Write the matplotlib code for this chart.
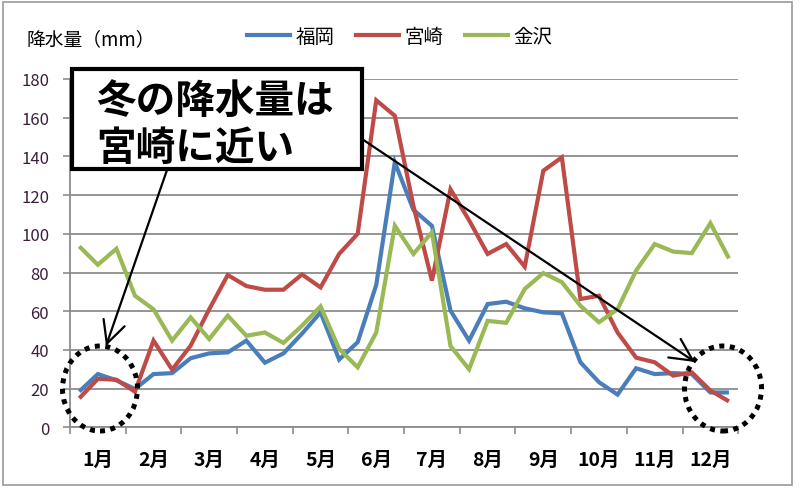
import matplotlib
matplotlib.use("Agg")
import matplotlib.pyplot as plt
from matplotlib.patches import Rectangle, Ellipse, FancyArrowPatch
from matplotlib.lines import Line2D
import numpy as np

plt.rcParams["font.family"] = ["Noto Sans CJK JP", "DejaVu Sans"]

# ---------------- Data (3 values per month, 旬) ----------------
months = ["1月", "2月", "3月", "4月", "5月", "6月",
          "7月", "8月", "9月", "10月", "11月", "12月"]

fukuoka = [18.5, 27.5, 24.3, 19.8, 27.5, 28.0, 35.7, 38.2, 38.7, 44.8, 33.4, 38.2,
           48.4, 59.4, 35.0, 44.0, 73.6, 137.0, 112.4, 104.1, 60.3, 44.8, 63.7, 64.9,
           61.5, 59.4, 58.9, 33.6, 23.3, 16.9, 30.5, 27.5, 28.0, 27.5, 18.0, 18.0]

miyazaki = [15.0, 25.0, 24.6, 18.4, 44.8, 29.8, 42.2, 61.0, 78.7, 73.0, 71.1, 71.1,
            79.0, 72.3, 89.6, 100.0, 169.0, 161.0, 114.5, 75.8, 123.0, 107.0, 89.6, 94.7,
            83.0, 132.6, 139.5, 66.3, 68.0, 49.0, 36.0, 33.6, 26.7, 28.4, 19.0, 13.4]

kanazawa = [93.5, 84.0, 92.3, 68.0, 61.0, 44.8, 56.8, 45.6, 57.7, 47.3, 49.0, 43.6,
            52.5, 62.5, 40.5, 31.0, 49.0, 104.2, 89.6, 100.8, 42.0, 30.0, 55.0, 54.0,
            71.5, 79.7, 75.0, 62.8, 54.3, 61.0, 81.0, 94.7, 90.8, 90.0, 105.5, 87.3]

series_names = ["福岡", "宮崎", "金沢"]
y_ticks = list(range(0, 181, 20))

# ---------------- Style ----------------
COLORS = ["#4a7ebb", "#be4b48", "#98b954"]
W, H = 800, 489

def fx(px):
    return px / W

def fy(py):
    return 1 - py / H

fig = plt.figure(figsize=(W / 100, H / 100), dpi=100)
fig.patch.set_facecolor("white")

ax = fig.add_axes([fx(70), fy(428.3), (738.2 - 70) / W, (428.3 - 80) / H])

x = np.arange(len(fukuoka))
for vals, color, name in zip([fukuoka, miyazaki, kanazawa], COLORS, series_names):
    ax.plot(x, vals, color=color, lw=3.0, label=name, solid_joinstyle="miter",
            solid_capstyle="butt", zorder=3)

ax.set_xlim(-0.5, len(fukuoka) - 0.5)
ax.set_ylim(0, 180)

# y axis
ax.set_yticks(y_ticks)
ax.tick_params(axis="y", which="major", length=5, width=1.2, color="#8c8c8c",
               pad=10, labelsize=12, labelcolor="#3c1f3c")
ax.grid(axis="y", color="#8c8c8c", lw=1.3, zorder=0)

# x axis: boundaries as major ticks, month names at centers
ax.set_xticks(np.arange(-0.5, len(fukuoka), 3))
ax.set_xticklabels([])
ax.set_xticks(np.arange(1, len(fukuoka), 3), minor=True)
ax.set_xticklabels(months, minor=True, fontsize=14, fontweight="bold")
ax.tick_params(axis="x", which="major", length=5, width=1.2, color="#8c8c8c", direction="out")
ax.tick_params(axis="x", which="minor", length=0, pad=16)

for s in ["top", "right"]:
    ax.spines[s].set_visible(False)
for s in ["left", "bottom"]:
    ax.spines[s].set_color("#8c8c8c")
    ax.spines[s].set_linewidth(1.3)

# y title
fig.text(fx(27), fy(40), "降水量（mm）", fontsize=13.5, ha="left", va="center")

# legend
handles = [Line2D([], [], color=c, lw=3.0) for c in COLORS]
fig.legend(handles, series_names, loc="center", bbox_to_anchor=(fx(400), fy(37)),
           ncol=3, frameon=False, fontsize=14, handlelength=2.2, handletextpad=0.3,
           columnspacing=1.1)

# callout box
box = Rectangle((fx(72), fy(170)), (362 - 72) / W, (170 - 70) / H, transform=fig.transFigure,
                facecolor="white", edgecolor="black", lw=3.0, zorder=5)
fig.patches.append(box)
fig.text(fx(96), fy(101), "冬の降水量は", fontsize=28.5, fontweight="bold",
         ha="left", va="center", zorder=6)
fig.text(fx(96), fy(148), "宮崎に近い", fontsize=28.5, fontweight="bold",
         ha="left", va="center", zorder=6)

# arrows
for (x0, y0), (x1, y1) in [((167, 171), (106, 347)), ((362, 140), (695, 363))]:
    arr = FancyArrowPatch((fx(x0), fy(y0)), (fx(x1), fy(y1)), transform=fig.transFigure,
                          arrowstyle="->,head_length=0.8,head_width=0.4", lw=1.6,
                          color="black", zorder=6, mutation_scale=20,
                          shrinkA=0, shrinkB=0)
    fig.patches.append(arr)

# dotted circles
for cx, cy, w, h in [(100, 389.5, 75, 85), (723, 389.5, 77, 85)]:
    el = Ellipse((fx(cx), fy(cy)), w / W, h / H, transform=fig.transFigure,
                 fill=False, edgecolor="black", lw=3.6, linestyle=(0, (1.0, 1.1)),
                 zorder=6)
    el.set_capstyle("butt")
    fig.patches.append(el)

# outer frame
frame = Rectangle((fx(3), fy(486)), (792 - 3) / W, (486 - 3) / H, transform=fig.transFigure,
                  fill=False, edgecolor="#9a9a9a", lw=1.2, zorder=7)
fig.patches.append(frame)

fig.savefig("out.png", dpi=100, facecolor="white")
plt.close(fig)
